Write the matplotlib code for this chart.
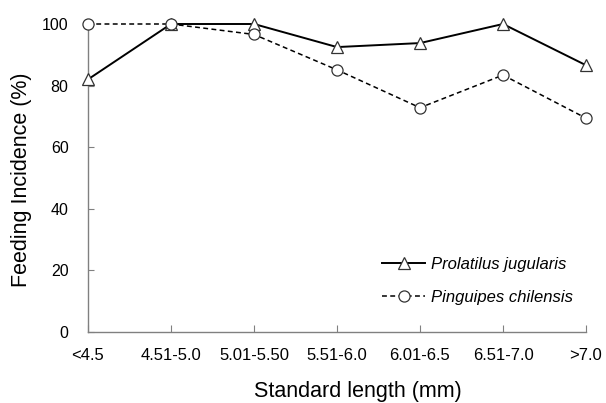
import matplotlib
matplotlib.use("Agg")
import matplotlib.pyplot as plt

categories = ["<4.5", "4.51-5.0", "5.01-5.50", "5.51-6.0", "6.01-6.5", "6.51-7.0", ">7.0"]
prolatilus = [82, 100, 100, 92.5, 93.8, 100, 86.6]
pinguipes = [100, 100, 96.6, 85.1, 72.8, 83.4, 69.4]
yticks = [0, 20, 40, 60, 80, 100]

plt.rcParams['font.family'] = ['Liberation Sans', 'DejaVu Sans']

W, H = 606, 403
fig = plt.figure(figsize=(W / 100, H / 100), dpi=100)
ax = fig.add_axes([88 / W, 1 - 331.7 / H, 498 / W, 307.7 / H])
x = list(range(len(categories)))
ax.plot(x, prolatilus, color='black', lw=1.4, ls='-', marker='^', markersize=8,
        markerfacecolor='white', markeredgecolor='#333333', markeredgewidth=0.9,
        clip_on=False, label='Prolatilus jugularis', zorder=3)
ax.plot(x, pinguipes, color='black', lw=1.1, ls=(0, (3.2, 2.2)), marker='o', markersize=8,
        markerfacecolor='white', markeredgecolor='#333333', markeredgewidth=0.9,
        clip_on=False, label='Pinguipes chilensis', zorder=3)

ax.set_xlim(0, 6)
ax.set_ylim(0, 100)
ax.set_xticks(x)
ax.set_xticklabels(categories)
ax.set_yticks(yticks)
for s in ['top', 'right']:
    ax.spines[s].set_visible(False)
for s in ['left', 'bottom']:
    ax.spines[s].set_color('#808080')
    ax.spines[s].set_linewidth(1.0)
ax.tick_params(axis='x', direction='in', length=5, color='#808080', labelsize=12, pad=12)
ax.tick_params(axis='y', direction='in', length=4, color='#808080', labelsize=11.5, pad=14)

fig.text(357.5 / W, 1 - 397 / H, 'Standard length (mm)', fontsize=15.5,
         ha='center', va='baseline')
fig.text(22 / W, 1 - 180 / H, 'Feeding Incidence (%)', fontsize=15.5,
         ha='center', va='center', rotation=90)

leg = ax.legend(loc='center left', bbox_to_anchor=(382 / W, 1 - 281 / H),
                bbox_transform=fig.transFigure, frameon=False,
                prop={'style': 'italic', 'size': 12}, handlelength=2.6,
                labelspacing=1.1, handletextpad=0.35, borderpad=0, borderaxespad=0)

fig.savefig('out.png', dpi=100)
